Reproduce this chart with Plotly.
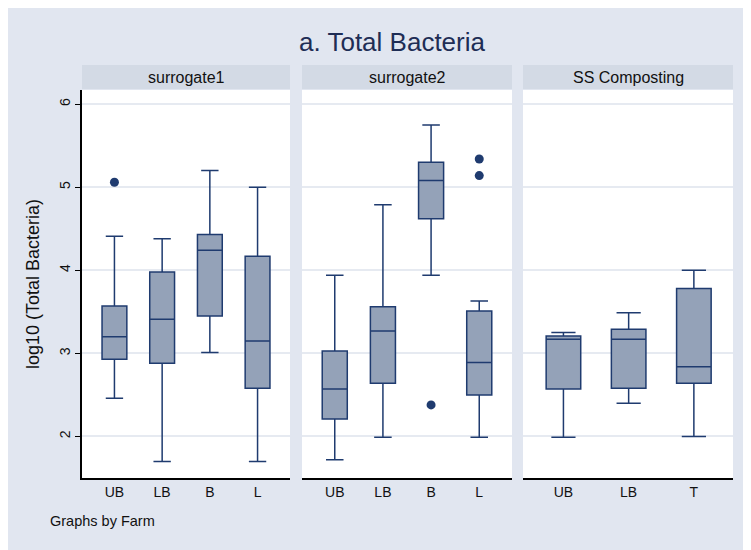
import plotly.graph_objects as go

panels = ["surrogate1", "surrogate2", "SS Composting"]
cats = [["UB", "LB", "B", "L"], ["UB", "LB", "B", "L"], ["UB", "LB", "T"]]
q1 = [[2.93, 2.88, 3.45, 2.58], [2.21, 2.64, 4.62, 2.50], [2.57, 2.58, 2.64]]
med = [[3.20, 3.41, 4.24, 3.15], [2.57, 3.27, 5.08, 2.89], [3.17, 3.17, 2.84]]
q3 = [[3.57, 3.98, 4.43, 4.17], [3.03, 3.56, 5.30, 3.51], [3.21, 3.29, 3.78]]
lo = [[2.46, 1.70, 3.01, 1.70], [1.72, 1.99, 3.94, 1.99], [1.99, 2.40, 2.00]]
hi = [[4.41, 4.38, 5.20, 5.00], [3.94, 4.79, 5.75, 3.63], [3.25, 3.49, 4.00]]
out_x = [["UB"], ["B", "L", "L"], []]
out_y = [[5.06], [2.38, 5.34, 5.14], []]

# page body has an 8px margin; the figure fills the rest of the window
OX, OY = 8, 8
W, H = 751 - OX, 550 - OY
BG = "#e1e6f0"
STRIP = "#d3dae5"
NAVY = "#1f3b6f"
FILL = "#94a2b8"


def px(a):
    return (a - OX) / W


def py(a):
    return (H - (a - OY)) / H


xd = [(82, 290), (302, 512), (523, 733)]
yb, yt = 478, 90

fig = go.Figure()
for i in range(3):
    xa = "x" if i == 0 else f"x{i+1}"
    ya = "y" if i == 0 else f"y{i+1}"
    fig.add_trace(go.Box(
        x=cats[i], q1=q1[i], median=med[i], q3=q3[i],
        lowerfence=lo[i], upperfence=hi[i],
        fillcolor=FILL, line=dict(color=NAVY, width=1.5),
        whiskerwidth=0.7, width=0.52 if i < 2 else 0.53,
        boxpoints=False, showlegend=False, xaxis=xa, yaxis=ya,
        hoverinfo="y"))
    if out_x[i]:
        fig.add_trace(go.Scatter(
            x=out_x[i], y=out_y[i], mode="markers",
            marker=dict(color=NAVY, size=9), showlegend=False,
            xaxis=xa, yaxis=ya))
    n = len(cats[i])
    rng = [-0.68, 3.68] if n == 4 else [-0.62, 2.6]
    xkey = "xaxis" if i == 0 else f"xaxis{i+1}"
    ykey = "yaxis" if i == 0 else f"yaxis{i+1}"
    fig.layout[xkey] = dict(
        domain=[px(xd[i][0]), px(xd[i][1])], anchor=ya,
        type="category", categoryorder="array", categoryarray=cats[i],
        range=rng, showgrid=False, zeroline=False,
        showline=True, linecolor="black", linewidth=1.5,
        ticks="", tickfont=dict(size=14, color="#111"),
        fixedrange=True)
    fig.layout[ykey] = dict(
        domain=[py(yb), py(yt)], anchor=xa,
        range=[1.5, 6.17], tickvals=[2, 3, 4, 5, 6],
        showgrid=True, gridcolor="#e6eaf1", gridwidth=2,
        zeroline=False, fixedrange=True,
        showticklabels=(i == 0),
        showline=(i == 0), linecolor="black", linewidth=1.5,
        ticks="outside" if i == 0 else "", ticklen=5, tickcolor="black",
        tickangle=-90, tickfont=dict(size=14, color="#111"),
        matches=None if i == 0 else "y")
    # strip
    fig.add_shape(type="rect", xref="paper", yref="paper",
                  x0=px(xd[i][0]), x1=px(xd[i][1]),
                  y0=py(89), y1=py(65),
                  fillcolor=STRIP, line=dict(width=0), layer="below")
    fig.add_annotation(text=panels[i], xref="paper", yref="paper",
                       x=px((xd[i][0] + xd[i][1]) / 2), y=py(77),
                       showarrow=False, font=dict(size=16, color="#111"),
                       xanchor="center", yanchor="middle")

fig.layout.yaxis.title = dict(text="log10 (Total Bacteria)",
                              font=dict(size=18, color="#111"), standoff=12)

fig.add_annotation(text="a. Total Bacteria", xref="paper", yref="paper",
                   x=px(392), y=py(42), showarrow=False,
                   font=dict(size=26, color="#1e2d55"),
                   xanchor="center", yanchor="middle")
fig.add_annotation(text="Graphs by Farm", xref="paper", yref="paper",
                   x=px(48), y=py(521), showarrow=False,
                   font=dict(size=14.5, color="#111"),
                   xanchor="left", yanchor="middle")

fig.update_layout(
    width=W, height=H, autosize=False,
    margin=dict(l=0, r=0, t=0, b=0),
    paper_bgcolor=BG, plot_bgcolor="white",
    font=dict(family="Liberation Sans, Arial, sans-serif"),
    showlegend=False,
)

fig.write_html("out.html")
